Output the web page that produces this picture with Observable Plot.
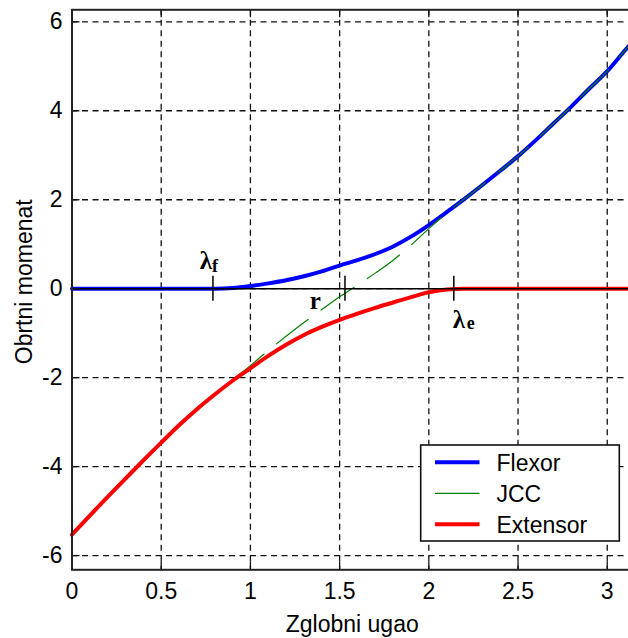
<!DOCTYPE html>
<html><head><meta charset="utf-8">
<script src="https://cdn.jsdelivr.net/npm/d3@7"></script>
<script src="https://cdn.jsdelivr.net/npm/@observablehq/plot@0.6"></script>
<style>
html,body{margin:0;padding:0;background:#fff;overflow:hidden;}
#wrap{position:relative;width:628px;height:638px;overflow:hidden;background:#fff;}
#legend{position:absolute;left:0;top:0;}
</style></head><body><div id="wrap"></div>
<script>
// ---- data ----
const angles    = [0,0.1,0.2,0.3,0.4,0.5,0.6,0.7,0.8,0.9,1.0,1.1,1.2,1.3,1.4,1.5,1.6,1.7,1.8,1.9,2.0,2.1,2.2,2.3,2.4,2.5,2.6,2.7,2.8,2.9,3.0,3.1,3.1416];
const flexor    = [0,0,0,0,0,0,0,0,0,0.015,0.06,0.12,0.19,0.28,0.39,0.52,0.64,0.78,0.95,1.17,1.43,1.72,2.02,2.33,2.65,2.98,3.34,3.72,4.1,4.5,4.89,5.36,5.55];
const jcc       = [-5.53,-5.1,-4.68,-4.27,-3.86,-3.46,-3.07,-2.71,-2.38,-2.05,-1.73,-1.39,-1.07,-0.76,-0.47,-0.18,0.08,0.35,0.64,0.98,1.35,1.7,2.02,2.33,2.65,2.98,3.34,3.72,4.1,4.5,4.89,5.36,5.55];
const extensor  = [-5.53,-5.1,-4.68,-4.27,-3.86,-3.46,-3.07,-2.71,-2.38,-2.07,-1.79,-1.51,-1.26,-1.04,-0.86,-0.7,-0.56,-0.43,-0.31,-0.19,-0.08,-0.02,0,0,0,0,0,0,0,0,0,0,0];
const seriesNames  = ["Flexor","JCC","Extensor"];
const seriesColors = ["#0000ff","#008000","#ff0000"];
const markerAngles  = [0.79, 1.53, 2.14];
const markerSymbols = ["λ","r","λ"];
const markerSubs    = ["f","","e"];
const xTicks = [0,0.5,1,1.5,2,2.5,3];
const yTicks = [-6,-4,-2,0,2,4,6];
const xLabel = "Zglobni ugao";
const yLabel = "Obrtni momenat";
const xDomain = [0, Math.PI];
const yDomain = [-6.32, 6.27];

// ---- build ----
const rows = s => angles.map((a,i)=>({a, v: s[i]}));
const serif = "'Liberation Serif','Times New Roman',serif";
const tickLenY = 8/44.5, tickLenX = 8/178.4;
const grid = {stroke:"#111", strokeOpacity:1, strokeDasharray:"6,4.5", strokeWidth:1.3};

const chart = Plot.plot({
  width: 632, height: 638,
  marginLeft: 71.5, marginRight: 0, marginTop: 9.3, marginBottom: 68.7,
  style: {fontFamily:"'Liberation Sans',Arial,sans-serif", fontSize:"23px", background:"#fff", color:"#000", maxWidth:"none"},
  x: {domain: xDomain},
  y: {domain: yDomain},
  marks: [
    Plot.gridX(xTicks.filter(d=>d>0), grid),
    Plot.gridY(yTicks, grid),
    Plot.line(rows(flexor), {x:"a", y:"v", stroke:seriesColors[0], strokeWidth:4, curve:"monotone-x"}),
    Plot.line(rows(jcc), {x:"a", y:"v", stroke:seriesColors[1], strokeWidth:1.2, strokeDasharray:"40,16", curve:"monotone-x"}),
    Plot.line(rows(extensor), {x:"a", y:"v", stroke:seriesColors[2], strokeWidth:4, curve:"monotone-x"}),
    Plot.ruleY([0], {x1: xDomain[0], x2: xDomain[1], stroke:"#000", strokeWidth:1.5}),
    Plot.ruleX(markerAngles, {y1:-0.28, y2:0.28, stroke:"#000", strokeWidth:1.5}),
    // λf
    Plot.text([markerAngles[0]], {x:d=>d, y:0, text:[markerSymbols[0]], textAnchor:"end", lineAnchor:"bottom", dx:-1, dy:-20, fontFamily:serif, fontWeight:"bold", fontSize:25}),
    Plot.text([markerAngles[0]], {x:d=>d, y:0, text:[markerSubs[0]], textAnchor:"start", lineAnchor:"bottom", dx:-1, dy:-17, fontFamily:serif, fontWeight:"bold", fontSize:18}),
    // r
    Plot.text([markerAngles[1]], {x:d=>d, y:0, text:[markerSymbols[1]], textAnchor:"end", lineAnchor:"bottom", dx:-24, dy:20, fontFamily:serif, fontWeight:"bold", fontSize:25}),
    // λe
    Plot.text([markerAngles[2]], {x:d=>d, y:0, text:[markerSymbols[2]], textAnchor:"start", lineAnchor:"bottom", dx:-1, dy:39, fontFamily:serif, fontWeight:"bold", fontSize:25}),
    Plot.text([markerAngles[2]], {x:d=>d, y:0, text:[markerSubs[2]], textAnchor:"start", lineAnchor:"bottom", dx:13, dy:40, fontFamily:serif, fontWeight:"bold", fontSize:18}),
    // inward ticks
    Plot.ruleX(xTicks, {y1: yDomain[0], y2: yDomain[0]+tickLenY, stroke:"#111", strokeWidth:1.3}),
    Plot.ruleX(xTicks, {y1: yDomain[1], y2: yDomain[1]-tickLenY, stroke:"#111", strokeWidth:1.3}),
    Plot.ruleY(yTicks, {x1: xDomain[0], x2: xDomain[0]+tickLenX, stroke:"#111", strokeWidth:1.3}),
    Plot.frame({stroke:"#222", strokeWidth:2}),
    Plot.axisX({ticks: xTicks, tickSize:0, tickPadding:13, tickFormat:d=>String(d), label:null}),
    Plot.axisY({ticks: yTicks, tickSize:0, tickPadding:9.5, tickFormat:d=>String(d), label:null}),
    Plot.text([xLabel], {frameAnchor:"bottom", text:d=>d, textAnchor:"middle", lineAnchor:"bottom", dy:62.5}),
    Plot.text([yLabel], {frameAnchor:"left", text:d=>d, textAnchor:"middle", rotate:-90, lineAnchor:"bottom", dx:-40.5, dy:-8})
  ]
});
const wrap = document.getElementById("wrap");
wrap.appendChild(chart);

// ---- legend ----
const lg = d3.select(wrap).append("svg").attr("id","legend").attr("width",628).attr("height",638)
  .style("pointer-events","none");
lg.append("rect").attr("x",420.7).attr("y",445).attr("width",198.6).attr("height",96)
  .attr("fill","#fff").attr("stroke","#111").attr("stroke-width",1.6);
const ly = [462.3, 493.3, 524.3];
const lw = [4, 1.2, 4];
seriesNames.forEach((n,i)=>{
  lg.append("line").attr("x1",435).attr("x2",479.5).attr("y1",ly[i]).attr("y2",ly[i])
    .attr("stroke",seriesColors[i]).attr("stroke-width",lw[i]);
  lg.append("text").attr("x",496.5).attr("y",ly[i]+9).text(n)
    .attr("font-family","'Liberation Sans',Arial,sans-serif").attr("font-size",23).attr("fill","#000");
});
</script></body></html>
